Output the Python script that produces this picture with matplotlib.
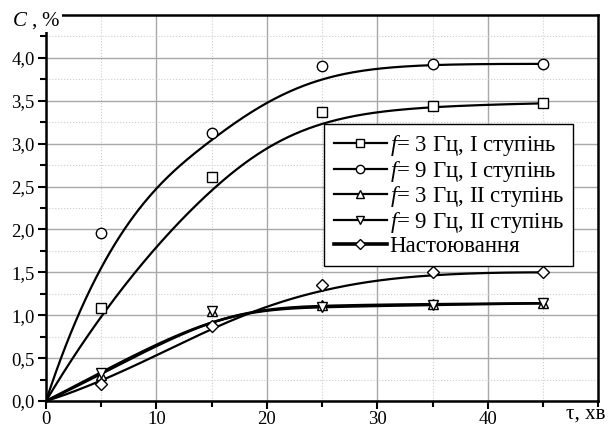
import numpy as np
import matplotlib
matplotlib.use("Agg")
import matplotlib.pyplot as plt
from matplotlib.ticker import MultipleLocator, FuncFormatter
from matplotlib.lines import Line2D

# time, min (0 is the common start point of every curve)
tau = [0, 5, 15, 25, 35, 45]

# concentration C, %
c_f3_I = [0, 1.08, 2.61, 3.37, 3.44, 3.47]
c_f9_I = [0, 1.96, 3.12, 3.90, 3.93, 3.93]
c_f3_II = [0, 0.30, 1.05, 1.12, 1.13, 1.14]
c_f9_II = [0, 0.33, 1.05, 1.10, 1.12, 1.14]
c_nast = [0, 0.20, 0.88, 1.35, 1.50, 1.50]

labels = ["$f$= 3 Гц, І ступінь", "$f$= 9 Гц, І ступінь",
          "$f$= 3 Гц, ІІ ступінь", "$f$= 9 Гц, ІІ ступінь", "Настоювання"]
markers = ["s", "o", "^", "v", "D"]


def bspline(xs, ys, n=300):
    # clamped cubic B-spline with the data points as control points
    P = np.column_stack([xs, ys]).astype(float)
    m = len(P)
    k = 3
    knots = np.concatenate([np.zeros(k), np.linspace(0, 1, m - k + 1), np.ones(k)])
    u = np.linspace(0, 1 - 1e-9, n)
    out = np.zeros((n, 2))
    for j, uu in enumerate(u):
        # Cox-de Boor basis
        N = np.array([1.0 if knots[i] <= uu < knots[i + 1] else 0.0 for i in range(len(knots) - 1)])
        for p in range(1, k + 1):
            Nn = np.zeros(len(knots) - 1 - p)
            for i in range(len(Nn)):
                a = 0.0
                if knots[i + p] != knots[i]:
                    a = (uu - knots[i]) / (knots[i + p] - knots[i]) * N[i]
                b = 0.0
                if knots[i + p + 1] != knots[i + 1]:
                    b = (knots[i + p + 1] - uu) / (knots[i + p + 1] - knots[i + 1]) * N[i + 1]
                Nn[i] = a + b
            N = Nn
        out[j] = N @ P
    out = np.vstack([out, P[-1]])
    return out[:, 0], out[:, 1]


plt.rcParams['font.family'] = ['Liberation Serif', 'DejaVu Serif']
plt.rcParams['mathtext.fontset'] = 'custom'
plt.rcParams['mathtext.it'] = 'Liberation Serif:italic'
plt.rcParams['mathtext.rm'] = 'Liberation Serif'

fig = plt.figure(figsize=(6.09, 4.28), dpi=100)
ax = fig.add_axes([0.0755, 0.063, 0.907, 0.902])

series = [c_f3_I, c_f9_I, c_f3_II, c_f9_II, c_nast]
widths = [1.6, 1.6, 1.8, 1.8, 1.6]
for ys, mk, lab, lw in zip(series, markers, labels, widths):
    sx, sy = bspline(tau, ys)
    ax.plot(sx, sy, color='black', lw=lw, zorder=3)
    ax.plot(tau[1:], ys[1:], linestyle='none', marker=mk, ms=7.5 if mk != 'D' else 6.5,
            mfc='white', mec='black', mew=1, zorder=4)

# legend handles
handles = [Line2D([], [], color='black', lw=2.6 if mk == 'D' else 1.6, marker=mk,
                  ms=6 if mk != 'D' else 5.5, mfc='white', mec='black', mew=1)
           for mk in markers]
leg = ax.legend(handles, labels, loc='upper left', bbox_to_anchor=(0.504, 0.718),
                fontsize=16.5, frameon=True, fancybox=False, framealpha=1,
                edgecolor='black', handlelength=2.35, handletextpad=0.1,
                labelspacing=0.03, borderpad=0.4, borderaxespad=0)
leg.get_frame().set_linewidth(1.0)

ax.set_xlim(0, 50)
ax.set_ylim(0, 4.5)
ax.set_xticks([0, 10, 20, 30, 40])
ax.set_yticks([0, 0.5, 1.0, 1.5, 2.0, 2.5, 3.0, 3.5, 4.0])
ax.xaxis.set_minor_locator(MultipleLocator(5))
ax.yaxis.set_minor_locator(MultipleLocator(0.25))
ax.yaxis.set_major_formatter(FuncFormatter(lambda v, p: f"{v:.1f}".replace('.', ',')))
ax.tick_params(which='major', direction='out', length=6, width=1.5, labelsize=13.5)
ax.tick_params(which='minor', direction='out', length=4, width=1.5)
ax.tick_params(axis='x', pad=1)
ax.tick_params(axis='y', pad=2)

ax.grid(which='major', color='#a8a8a8', lw=1.0, ls='-')
ax.grid(which='minor', color='#cccccc', lw=0.8, ls=':')
ax.set_axisbelow(True)
for s in ax.spines.values():
    s.set_linewidth(1.8)

fig.text(0.02, 0.952, "$C$ , %", fontsize=15, ha='left', va='center',
         bbox=dict(facecolor='white', edgecolor='none', pad=1))
fig.text(0.995, 0.033, "τ, хв", fontsize=15, ha='right', va='center')

fig.savefig("out.png", dpi=100)
